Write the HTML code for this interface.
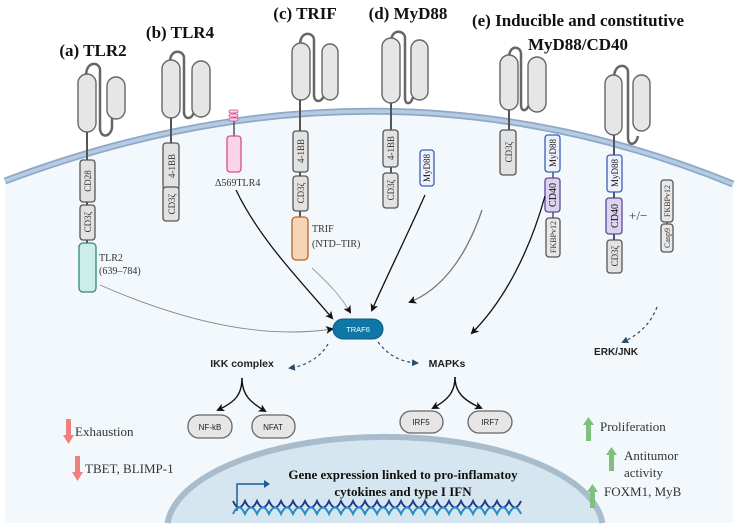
<!DOCTYPE html>
<html><head><meta charset="utf-8"><style>
html,body{margin:0;padding:0;background:#fff;overflow:hidden;width:738px;height:531px}
svg{display:block}
.t{font-family:"Liberation Serif",serif;font-weight:bold;fill:#111}
.s{font-family:"Liberation Serif",serif;fill:#333}
.b{font-family:"Liberation Sans",sans-serif;font-weight:bold;fill:#222}
.box{stroke:#555;stroke-width:1.3}
</style></head><body>
<svg width="738" height="531" viewBox="0 0 738 531" xmlns="http://www.w3.org/2000/svg">
<defs>
<marker id="ah" markerWidth="8" markerHeight="8" refX="6" refY="4" orient="auto" markerUnits="userSpaceOnUse"><path d="M0,0 L8,4 L0,8 L2,4 z" fill="#111"/></marker>
<marker id="ab" markerWidth="7" markerHeight="7" refX="5" refY="3.5" orient="auto" markerUnits="userSpaceOnUse"><path d="M0,0 L7,3.5 L0,7 z" fill="#2a4e6e"/></marker>
</defs>
<!-- cell -->
<path d="M5,181 Q380,40 733,184 L733,523 L5,523 Z" fill="#f3f8fc"/>
<path d="M5,181 Q380,40 733,184" fill="none" stroke="#8ea9c6" stroke-width="7"/>
<path d="M5,181 Q380,40 733,184" fill="none" stroke="#b6cbe3" stroke-width="3.5"/>
<!-- nucleus -->
<path d="M167.6,523 A218,93 0 0 1 602.4,523 Z" fill="#d6e6f1"/>
<path d="M167.6,523 A218,93 0 0 1 602.4,523" fill="none" stroke="#a9bccb" stroke-width="6"/>

<!-- titles -->
<text class="t" x="93" y="56" font-size="17" text-anchor="middle">(a) TLR2</text>
<text class="t" x="180" y="38" font-size="17" text-anchor="middle">(b) TLR4</text>
<text class="t" x="305" y="19" font-size="17" text-anchor="middle">(c) TRIF</text>
<text class="t" x="408" y="19" font-size="17" text-anchor="middle">(d) MyD88</text>
<text class="t" x="578" y="26" font-size="17" text-anchor="middle">(e) Inducible and constitutive</text>
<text class="t" x="578" y="50" font-size="17" text-anchor="middle">MyD88/CD40</text>

<g fill="#e6e6e6" stroke="#666" stroke-width="1.4">
<path d="M86,76 C86,60 100,62 100,70 L100,128 C100,138 110,138 112,128 L112,104" fill="none" stroke="#666" stroke-width="2.5"/>
<rect x="78" y="74" width="18" height="58" rx="9"/><rect x="107" y="77" width="18" height="42" rx="9"/>
<line x1="87" y1="132" x2="87" y2="245" stroke="#555" stroke-width="2"/>
<path d="M170,62 C170,48 184,50 184,58 L184,112 C184,120 192,120 194,112" fill="none" stroke="#666" stroke-width="2.5"/>
<rect x="162" y="60" width="18" height="58" rx="9"/><rect x="192" y="61" width="18" height="56" rx="9"/>
<line x1="171" y1="118" x2="171" y2="190" stroke="#555" stroke-width="2"/>
<line x1="234" y1="112" x2="234" y2="138" stroke="#555" stroke-width="1.5"/>
<path d="M300,45 C300,30 314,32 314,40 L314,95 C314,103 322,103 324,95" fill="none" stroke="#666" stroke-width="2.5"/>
<rect x="292" y="43" width="18" height="57" rx="9"/><rect x="322" y="44" width="16" height="56" rx="8"/>
<line x1="300" y1="100" x2="300" y2="218" stroke="#555" stroke-width="2"/>
<path d="M391,42 C391,28 405,30 405,38 L405,98 C405,105 411,105 413,97" fill="none" stroke="#666" stroke-width="2.5"/>
<rect x="382" y="38" width="18" height="65" rx="9"/><rect x="411" y="40" width="17" height="60" rx="8.5"/>
<line x1="391" y1="103" x2="391" y2="208" stroke="#555" stroke-width="2"/>
<path d="M509,58 C509,44 521,46 521,54 L521,105 C521,112 527,112 529,104" fill="none" stroke="#666" stroke-width="2.5"/>
<rect x="500" y="55" width="18" height="55" rx="9"/><rect x="528" y="57" width="18" height="55" rx="9"/>
<line x1="509" y1="110" x2="509" y2="132" stroke="#555" stroke-width="2"/>
<line x1="553" y1="135" x2="553" y2="255" stroke="#555" stroke-width="1.5"/>
<path d="M614,78 C614,62 628,64 628,72 L628,138 C628,146 636,146 638,136" fill="none" stroke="#666" stroke-width="2.5"/>
<rect x="605" y="75" width="17" height="60" rx="8.5"/><rect x="633" y="75" width="17" height="56" rx="8.5"/>
<line x1="614" y1="135" x2="614" y2="272" stroke="#555" stroke-width="2"/>
<line x1="667" y1="182" x2="667" y2="252" stroke="#555" stroke-width="1.5"/>
</g>

<g class="box">
<rect x="80" y="160" width="15" height="42" rx="3" fill="#e2e2e2"/>
<rect x="80" y="205" width="15" height="35" rx="3" fill="#e2e2e2"/>
<rect x="79" y="243" width="17" height="49" rx="4" fill="#cdeee8" stroke="#2e8a78"/>
<rect x="163" y="143" width="16" height="47" rx="3" fill="#e2e2e2"/>
<rect x="163" y="187" width="16" height="34" rx="3" fill="#e2e2e2"/>
<rect x="227" y="136" width="14" height="36" rx="3" fill="#fbd4e8" stroke="#d4508c"/>
<rect x="229" y="110" width="9" height="3" rx="1.5" fill="#fbd4e8" stroke="#d4508c" stroke-width="0.8"/>
<rect x="229" y="114" width="9" height="3" rx="1.5" fill="#fbd4e8" stroke="#d4508c" stroke-width="0.8"/>
<rect x="229" y="118" width="9" height="3" rx="1.5" fill="#fbd4e8" stroke="#d4508c" stroke-width="0.8"/>
<rect x="293" y="131" width="15" height="41" rx="3" fill="#e2e2e2"/>
<rect x="293" y="176" width="15" height="35" rx="3" fill="#e2e2e2"/>
<rect x="292" y="217" width="16" height="43" rx="4" fill="#f6d5b4" stroke="#b8612a"/>
<rect x="383" y="130" width="15" height="37" rx="3" fill="#e2e2e2"/>
<rect x="383" y="173" width="15" height="35" rx="3" fill="#e2e2e2"/>
<rect x="420" y="150" width="14" height="36" rx="3" fill="#eef2fc" stroke="#3b5fb5"/>
<rect x="500" y="130" width="16" height="45" rx="3" fill="#e2e2e2"/>
<rect x="545" y="135" width="15" height="37" rx="3" fill="#eef2fc" stroke="#3b5fb5"/>
<rect x="545" y="178" width="15" height="34" rx="3" fill="#dcd3f0" stroke="#5b4a9a"/>
<rect x="546" y="218" width="14" height="39" rx="3" fill="#e8e8e8"/>
<rect x="607" y="155" width="15" height="37" rx="3" fill="#eef2fc" stroke="#3b5fb5"/>
<rect x="606" y="198" width="16" height="36" rx="3" fill="#dcd3f0" stroke="#5b4a9a"/>
<rect x="607" y="240" width="15" height="33" rx="3" fill="#e2e2e2"/>
<rect x="661" y="180" width="12" height="42" rx="3" fill="#e8e8e8"/>
<rect x="661" y="224" width="12" height="28" rx="3" fill="#e8e8e8"/>
</g>
<g class="s" font-size="9">
<text transform="translate(91,181) rotate(-90)" text-anchor="middle">CD28</text>
<text transform="translate(91,222) rotate(-90)" text-anchor="middle">CD3ζ</text>
<text transform="translate(175,166) rotate(-90)" text-anchor="middle">4-1BB</text>
<text transform="translate(175,204) rotate(-90)" text-anchor="middle">CD3ζ</text>
<text transform="translate(304,151) rotate(-90)" text-anchor="middle">4-1BB</text>
<text transform="translate(304,193) rotate(-90)" text-anchor="middle">CD3ζ</text>
<text transform="translate(394,148) rotate(-90)" text-anchor="middle">4-1BB</text>
<text transform="translate(394,190) rotate(-90)" text-anchor="middle">CD3ζ</text>
<text transform="translate(430,168) rotate(-90)" text-anchor="middle" fill="#111">MyD88</text>
<text transform="translate(512,152) rotate(-90)" text-anchor="middle">CD3ζ</text>
<text transform="translate(556,153) rotate(-90)" text-anchor="middle" fill="#111">MyD88</text>
<text transform="translate(556,195) rotate(-90)" text-anchor="middle" fill="#111" font-size="10">CD40</text>
<text transform="translate(556,237) rotate(-90)" text-anchor="middle" font-size="8">FKBPv12</text>
<text transform="translate(618,173) rotate(-90)" text-anchor="middle" fill="#111">MyD88</text>
<text transform="translate(618,216) rotate(-90)" text-anchor="middle" fill="#111" font-size="10">CD40</text>
<text transform="translate(618,256) rotate(-90)" text-anchor="middle">CD3ζ</text>
<text transform="translate(670,201) rotate(-90)" text-anchor="middle" font-size="8">FKBPv12</text>
<text transform="translate(670,238) rotate(-90)" text-anchor="middle" font-size="8">Casp9</text>
</g>
<g class="s" font-size="10" fill="#111">
<text x="99" y="261">TLR2</text><text x="99" y="274">(639–784)</text>
<text x="215" y="186">Δ569TLR4</text>
<text x="312" y="232">TRIF</text><text x="312" y="247">(NTD–TIR)</text>
<text x="629" y="220" font-size="13">+/−</text>
</g>

<!-- connectors -->
<g fill="none" stroke="#111" stroke-width="1.3" marker-end="url(#ah)">
<path d="M100,285 C180,320 260,340 332,329" stroke="#888" stroke-width="0.9"/>
<path d="M236,190 C260,240 300,280 332,318"/>
<path d="M312,268 C330,285 340,295 350,312" stroke="#999" stroke-width="0.9"/>
<path d="M425,195 C405,240 385,280 372,310"/>
<path d="M482,210 C465,260 440,290 410,302" stroke="#777"/>
<path d="M545,196 C530,250 505,300 472,333"/>
<path d="M242,378 C242,395 235,402 218,410" stroke-width="1.4"/>
<path d="M242,378 C242,395 250,402 265,411" stroke-width="1.4"/>
<path d="M455,377 C455,392 448,400 433,408" stroke-width="1.4"/>
<path d="M455,377 C455,392 463,400 481,408" stroke-width="1.4"/>
</g>
<g fill="none" stroke="#2a4e6e" stroke-width="1.2" stroke-dasharray="3,3" marker-end="url(#ab)">
<path d="M328,344 C320,358 305,366 290,368"/>
<path d="M378,342 C388,355 400,362 417,363"/>
<path d="M657,307 C650,325 638,335 623,342" stroke="#444"/>
</g>
<rect x="333" y="319" width="50" height="20" rx="10" fill="#0e77a6" stroke="#0b5a7d" stroke-width="1"/>
<text x="358" y="332" font-family="Liberation Sans,sans-serif" font-size="7.5" fill="#fff" text-anchor="middle">TRAF6</text>
<text class="b" x="242" y="367" font-size="10.5" text-anchor="middle">IKK complex</text>
<text class="b" x="447" y="367" font-size="10.5" text-anchor="middle">MAPKs</text>
<text class="b" x="616" y="355" font-size="10" text-anchor="middle">ERK/JNK</text>
<g fill="#e6e6e6" stroke="#666" stroke-width="1.3">
<rect x="188" y="415" width="44" height="23" rx="11"/><rect x="252" y="415" width="43" height="23" rx="11"/>
<rect x="400" y="411" width="43" height="22" rx="11"/><rect x="468" y="411" width="44" height="22" rx="11"/>
</g>
<g font-family="Liberation Sans,sans-serif" font-size="8" fill="#222" text-anchor="middle">
<text x="210" y="430">NF-kB</text><text x="273" y="430">NFAT</text>
<text x="421" y="425">IRF5</text><text x="490" y="425">IRF7</text>
</g>
<g>
<path d="M66,419 h5 v16 h3 l-5.5,9 l-5.5,-9 h3 z" fill="#f08080"/>
<path d="M75,456 h5 v16 h3 l-5.5,9 l-5.5,-9 h3 z" fill="#f08080"/>
<path d="M586,441 h5 v-16 h3 l-5.5,-8 l-5.5,8 h3 z" fill="#7fc07f"/>
<path d="M609,471 h5 v-16 h3 l-5.5,-8 l-5.5,8 h3 z" fill="#7fc07f"/>
<path d="M590,508 h5 v-16 h3 l-5.5,-8 l-5.5,8 h3 z" fill="#7fc07f"/>
</g>
<g class="s" font-size="13" fill="#333">
<text x="75" y="436">Exhaustion</text>
<text x="85" y="473">TBET, BLIMP-1</text>
<text x="600" y="431">Proliferation</text>
<text x="624" y="460">Antitumor</text><text x="624" y="477">activity</text>
<text x="604" y="496">FOXM1, MyB</text>
</g>
<text class="t" x="403" y="479" font-size="13" text-anchor="middle">Gene expression linked to pro-inflamatoy</text>
<text class="t" x="403" y="496" font-size="13" text-anchor="middle">cytokines and type I IFN</text>
<path d="M237,511 V484 H265" fill="none" stroke="#1e5e96" stroke-width="1.5"/>
<path d="M264,480 L270,484 L264,488 z" fill="#1e5e96"/>
<path d="M233,501 q6,13 12,0 q6,13 12,0 q6,13 12,0 q6,13 12,0 q6,13 12,0 q6,13 12,0 q6,13 12,0 q6,13 12,0 q6,13 12,0 q6,13 12,0 q6,13 12,0 q6,13 12,0 q6,13 12,0 q6,13 12,0 q6,13 12,0 q6,13 12,0 q6,13 12,0 q6,13 12,0 q6,13 12,0 q6,13 12,0 q6,13 12,0 q6,13 12,0 q6,13 12,0 q6,13 12,0" fill="none" stroke="#1f3d8a" stroke-width="2"/>
<path d="M233,514 q6,-13 12,0 q6,-13 12,0 q6,-13 12,0 q6,-13 12,0 q6,-13 12,0 q6,-13 12,0 q6,-13 12,0 q6,-13 12,0 q6,-13 12,0 q6,-13 12,0 q6,-13 12,0 q6,-13 12,0 q6,-13 12,0 q6,-13 12,0 q6,-13 12,0 q6,-13 12,0 q6,-13 12,0 q6,-13 12,0 q6,-13 12,0 q6,-13 12,0 q6,-13 12,0 q6,-13 12,0 q6,-13 12,0 q6,-13 12,0" fill="none" stroke="#2a8ac0" stroke-width="2"/>
</svg>
</body></html>
